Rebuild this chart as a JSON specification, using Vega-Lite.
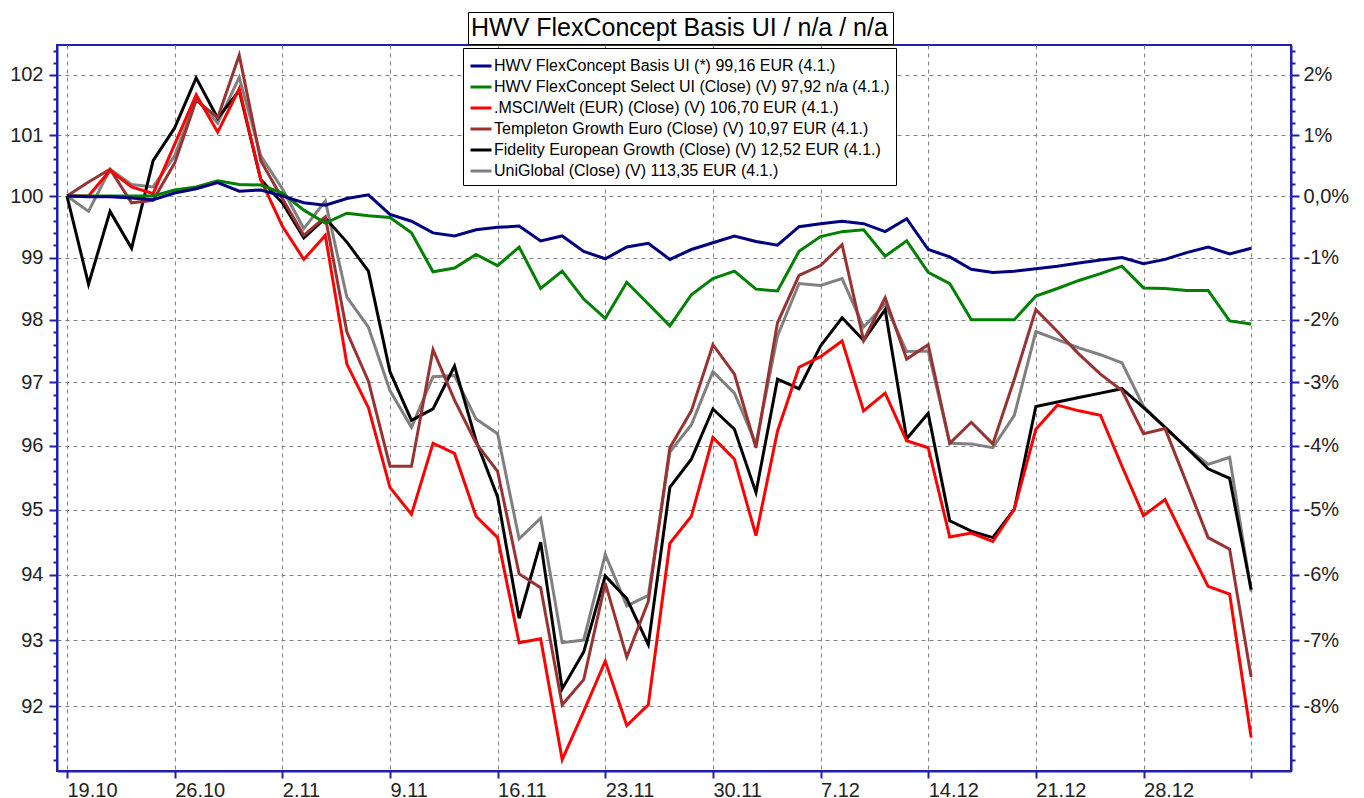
{
  "$schema": "https://vega.github.io/schema/vega-lite/v6.json",
  "width": 1234,
  "height": 726,
  "autosize": "none",
  "padding": {"left": 57, "top": 45, "right": 73, "bottom": 27},
  "background": "white",
  "config": {"view": {"stroke": "#2020b0", "strokeWidth": 2}, "font": "Liberation Sans"},
  "data": {"values": [
    {"i": 0, "basis": 100, "sel": 100, "msci": 100, "tem": 100, "fid": 100, "uni": 100},
    {"i": 1, "basis": 99.99, "sel": 100, "msci": 100.0, "tem": 100.23, "fid": 98.57, "uni": 99.75},
    {"i": 2, "basis": 99.99, "sel": 100, "msci": 100.42, "tem": 100.44, "fid": 99.75, "uni": 100.44},
    {"i": 3, "basis": 99.97, "sel": 100, "msci": 100.15, "tem": 99.89, "fid": 99.15, "uni": 100.19},
    {"i": 4, "basis": 99.94, "sel": 100, "msci": 100.04, "tem": 99.93, "fid": 100.58, "uni": 100.15},
    {"i": 5, "basis": 100.05, "sel": 100.1, "msci": 100.85, "tem": 100.54, "fid": 101.12, "uni": 100.66},
    {"i": 6, "basis": 100.12, "sel": 100.15, "msci": 101.67, "tem": 101.58, "fid": 101.95, "uni": 101.6},
    {"i": 7, "basis": 100.22, "sel": 100.25, "msci": 101.05, "tem": 101.29, "fid": 101.28, "uni": 101.2},
    {"i": 8, "basis": 100.08, "sel": 100.19, "msci": 101.77, "tem": 102.33, "fid": 101.74, "uni": 101.96},
    {"i": 9, "basis": 100.1, "sel": 100.18, "msci": 100.27, "tem": 100.58, "fid": 100.27, "uni": 100.66},
    {"i": 10, "basis": 100.0, "sel": 100.05, "msci": 99.51, "tem": 99.96, "fid": 99.89, "uni": 100.12},
    {"i": 11, "basis": 99.89, "sel": 99.77, "msci": 98.97, "tem": 99.36, "fid": 99.32, "uni": 99.47},
    {"i": 12, "basis": 99.85, "sel": 99.56, "msci": 99.36, "tem": 99.66, "fid": 99.64, "uni": 99.92},
    {"i": 13, "basis": 99.96, "sel": 99.72, "msci": 97.29, "tem": 97.8, "fid": 99.25, "uni": 98.36},
    {"i": 14, "basis": 100.02, "sel": 99.68, "msci": 96.6, "tem": 97.02, "fid": 98.78, "uni": 97.88},
    {"i": 15, "basis": 99.7, "sel": 99.65, "msci": 95.35, "tem": 95.68, "fid": 97.17, "uni": 96.87},
    {"i": 16, "basis": 99.59, "sel": 99.4, "msci": 94.93, "tem": 95.68, "fid": 96.4, "uni": 96.29},
    {"i": 17, "basis": 99.4, "sel": 98.77, "msci": 96.04, "tem": 97.52, "fid": 96.58, "uni": 97.09},
    {"i": 18, "basis": 99.35, "sel": 98.83, "msci": 95.88, "tem": 96.72, "fid": 97.26, "uni": 97.11},
    {"i": 19, "basis": 99.45, "sel": 99.05, "msci": 94.9, "tem": 96.04, "fid": 96.08, "uni": 96.42},
    {"i": 20, "basis": 99.49, "sel": 98.87, "msci": 94.57, "tem": 95.6, "fid": 95.2, "uni": 96.19},
    {"i": 21, "basis": 99.51, "sel": 99.17, "msci": 92.96, "tem": 94.01, "fid": 93.33, "uni": 94.55},
    {"i": 22, "basis": 99.27, "sel": 98.5, "msci": 93.02, "tem": 93.8, "fid": 94.5, "uni": 94.87},
    {"i": 23, "basis": 99.35, "sel": 98.78, "msci": 91.2, "tem": 92.02, "fid": 92.26, "uni": 92.96},
    {"i": 24, "basis": 99.1, "sel": 98.33, "msci": 91.92, "tem": 92.4, "fid": 92.82, "uni": 93.0},
    {"i": 25, "basis": 98.98, "sel": 98.02, "msci": 92.68, "tem": 93.87, "fid": 93.98, "uni": 94.31},
    {"i": 26, "basis": 99.17, "sel": 98.6, "msci": 91.71, "tem": 92.74, "fid": 93.63, "uni": 93.52},
    {"i": 27, "basis": 99.23, "sel": 98.25, "msci": 92.02, "tem": 93.59, "fid": 92.93, "uni": 93.68},
    {"i": 28, "basis": 98.97, "sel": 97.9, "msci": 94.48, "tem": 95.97, "fid": 95.35, "uni": 95.9},
    {"i": 29, "basis": 99.13, "sel": 98.4, "msci": 94.9, "tem": 96.55, "fid": 95.79, "uni": 96.33},
    {"i": 30, "basis": 99.24, "sel": 98.66, "msci": 96.13, "tem": 97.6, "fid": 96.58, "uni": 97.17},
    {"i": 31, "basis": 99.35, "sel": 98.78, "msci": 95.79, "tem": 97.13, "fid": 96.26, "uni": 96.83},
    {"i": 32, "basis": 99.26, "sel": 98.49, "msci": 94.6, "tem": 95.97, "fid": 95.27, "uni": 96.03},
    {"i": 33, "basis": 99.2, "sel": 98.46, "msci": 96.23, "tem": 97.95, "fid": 97.05, "uni": 97.74},
    {"i": 34, "basis": 99.5, "sel": 99.1, "msci": 97.24, "tem": 98.71, "fid": 96.9, "uni": 98.58},
    {"i": 35, "basis": 99.55, "sel": 99.34, "msci": 97.41, "tem": 98.87, "fid": 97.58, "uni": 98.55},
    {"i": 36, "basis": 99.59, "sel": 99.42, "msci": 97.66, "tem": 99.21, "fid": 98.03, "uni": 98.66},
    {"i": 37, "basis": 99.55, "sel": 99.45, "msci": 96.55, "tem": 97.67, "fid": 97.67, "uni": 97.88},
    {"i": 38, "basis": 99.42, "sel": 99.02, "msci": 96.83, "tem": 98.35, "fid": 98.16, "uni": 98.25},
    {"i": 39, "basis": 99.63, "sel": 99.27, "msci": 96.08, "tem": 97.37, "fid": 96.11, "uni": 97.49},
    {"i": 40, "basis": 99.13, "sel": 98.76, "msci": 95.97, "tem": 97.6, "fid": 96.51, "uni": 97.5},
    {"i": 41, "basis": 99.01, "sel": 98.58, "msci": 94.58, "tem": 96.04, "fid": 94.83, "uni": 96.04},
    {"i": 42, "basis": 98.81, "sel": 98.0, "msci": 94.64, "tem": 96.37, "fid": 94.67, "uni": 96.03},
    {"i": 43, "basis": 98.76, "sel": 98.0, "msci": 94.51, "tem": 96.03, "fid": 94.57, "uni": 95.97},
    {"i": 44, "basis": 98.78, "sel": 98.0, "msci": 95.01, "tem": 97.05, "fid": 95.01, "uni": 96.48},
    {"i": 45, "basis": 98.82, "sel": 98.38, "msci": 96.26, "tem": 98.16, "fid": 96.62, "uni": 97.81},
    {"i": 46, "basis": 98.86, "sel": 98.5, "msci": 96.64, "tem": 97.81, "fid": 96.69, "uni": 97.68},
    {"i": 47, "basis": 98.91, "sel": 98.63, "msci": 96.55, "tem": 97.45, "fid": 96.76, "uni": 97.55},
    {"i": 48, "basis": 98.96, "sel": 98.74, "msci": 96.48, "tem": 97.13, "fid": 96.83, "uni": 97.44},
    {"i": 49, "basis": 99.0, "sel": 98.86, "msci": 95.68, "tem": 96.87, "fid": 96.9, "uni": 97.31},
    {"i": 50, "basis": 98.9, "sel": 98.51, "msci": 94.91, "tem": 96.19, "fid": 96.6, "uni": 96.62},
    {"i": 51, "basis": 98.97, "sel": 98.5, "msci": 95.16, "tem": 96.27, "fid": 96.29, "uni": 96.29},
    {"i": 52, "basis": 99.08, "sel": 98.47, "msci": 94.48, "tem": 95.42, "fid": 95.97, "uni": 95.97},
    {"i": 53, "basis": 99.17, "sel": 98.47, "msci": 93.82, "tem": 94.57, "fid": 95.64, "uni": 95.71},
    {"i": 54, "basis": 99.06, "sel": 97.98, "msci": 93.7, "tem": 94.39, "fid": 95.49, "uni": 95.82},
    {"i": 55, "basis": 99.15, "sel": 97.93, "msci": 91.53, "tem": 92.44, "fid": 93.77, "uni": 93.74}
  ]},
  "transform": [{"fold": ["uni", "fid", "tem", "msci", "sel", "basis"], "as": ["series", "value"]}],
  "layer": [
    {
      "mark": {"type": "line", "strokeOpacity": 0},
      "encoding": {
        "x": {"field": "i", "type": "quantitative", "scale": {"domain": [-0.464, 56.85], "nice": false, "zero": false},
          "axis": {"values": [0, 5, 10, 15, 20, 25, 30, 35, 40, 45, 50, 55], "labelExpr": "['19.10','26.10','2.11','9.11','16.11','23.11','30.11','7.12','14.12','21.12','28.12',''][round(datum.value/5)]", "grid": true, "gridColor": "#808080", "gridDash": [4, 4], "gridWidth": 1, "domainColor": "#2020b0", "domainWidth": 2, "tickColor": "#2020b0", "tickWidth": 2, "tickSize": 7, "labelAlign": "left", "labelBaseline": "top", "labelPadding": 2, "labelFontSize": 20, "labelFont": "Liberation Sans", "labelColor": "#222222", "labelOverlap": false, "labelBound": false, "labelFlush": false, "title": null}},
        "y": {"field": "value", "type": "quantitative", "scale": {"type": "log", "domain": [91.03, 102.5], "nice": false, "zero": false},
          "axis": {"orient": "right", "values": [91.2, 91.4, 91.6, 91.8, 92, 92.2, 92.4, 92.6, 92.8, 93, 93.2, 93.4, 93.6, 93.8, 94, 94.2, 94.4, 94.6, 94.8, 95, 95.2, 95.4, 95.6, 95.8, 96, 96.2, 96.4, 96.6, 96.8, 97, 97.2, 97.4, 97.6, 97.8, 98, 98.2, 98.4, 98.6, 98.8, 99, 99.2, 99.4, 99.6, 99.8, 100, 100.2, 100.4, 100.6, 100.8, 101, 101.2, 101.4, 101.6, 101.8, 102, 102.2, 102.4],
            "labelExpr": "datum.value === 100 ? '0,0%' : (datum.value % 1 === 0 ? toString(datum.value - 100) + '%' : '')",
            "tickSize": {"condition": {"test": "datum.value % 1 === 0", "value": 8}, "value": 4},
            "tickColor": "#2020b0", "tickWidth": 2, "domainColor": "#2020b0", "domainWidth": 2, "grid": false,
            "labelFontSize": 20, "labelFont": "Liberation Sans", "labelColor": "#222222", "labelPadding": 4, "labelOverlap": false, "labelBound": false, "labelFlush": false, "title": null}}
      }
    },
    {
      "mark": {"type": "line"},
      "encoding": {
        "x": {"field": "i", "type": "quantitative", "scale": {"domain": [-0.464, 56.85], "nice": false, "zero": false},
          "axis": {"values": [0, 5, 10, 15, 20, 25, 30, 35, 40, 45, 50, 55], "labelExpr": "['19.10','26.10','2.11','9.11','16.11','23.11','30.11','7.12','14.12','21.12','28.12',''][round(datum.value/5)]", "grid": true, "gridColor": "#808080", "gridDash": [4, 4], "gridWidth": 1, "domainColor": "#2020b0", "domainWidth": 2, "tickColor": "#2020b0", "tickWidth": 2, "tickSize": 7, "labelAlign": "left", "labelBaseline": "top", "labelPadding": 2, "labelFontSize": 20, "labelFont": "Liberation Sans", "labelColor": "#222222", "labelOverlap": false, "labelBound": false, "labelFlush": false, "title": null}},
        "y": {"field": "value", "type": "quantitative", "scale": {"type": "log", "domain": [91.03, 102.5], "nice": false, "zero": false},
          "axis": {"orient": "left", "values": [91.2, 91.4, 91.6, 91.8, 92, 92.2, 92.4, 92.6, 92.8, 93, 93.2, 93.4, 93.6, 93.8, 94, 94.2, 94.4, 94.6, 94.8, 95, 95.2, 95.4, 95.6, 95.8, 96, 96.2, 96.4, 96.6, 96.8, 97, 97.2, 97.4, 97.6, 97.8, 98, 98.2, 98.4, 98.6, 98.8, 99, 99.2, 99.4, 99.6, 99.8, 100, 100.2, 100.4, 100.6, 100.8, 101, 101.2, 101.4, 101.6, 101.8, 102, 102.2, 102.4],
            "labelExpr": "datum.value % 1 === 0 ? toString(datum.value) : ''",
            "tickSize": {"condition": {"test": "datum.value % 1 === 0", "value": 8}, "value": 4},
            "tickColor": "#2020b0", "tickWidth": 2, "domainColor": "#2020b0", "domainWidth": 2,
            "grid": true, "gridColor": "#808080", "gridDash": [4, 4], "gridWidth": 1,
            "gridOpacity": {"condition": {"test": "datum.value % 1 === 0", "value": 1}, "value": 0},
            "labelFontSize": 20, "labelFont": "Liberation Sans", "labelColor": "#222222", "labelPadding": 6, "labelOverlap": false, "labelBound": false, "labelFlush": false, "title": null}},
        "strokeWidth": {"field": "series", "type": "nominal", "scale": {"domain": ["basis", "sel", "msci", "tem", "fid", "uni"], "range": [3, 3, 4, 3.5, 3.5, 3.5]}, "legend": null},
        "color": {"field": "series", "type": "nominal",
          "scale": {"domain": ["basis", "sel", "msci", "tem", "fid", "uni"], "range": ["#000080", "#008000", "#ff0000", "#993333", "#000000", "#808080"]},
          "legend": {"title": null, "orient": "none", "legendX": 406, "legendY": 3, "symbolType": "stroke", "symbolSize": 441, "symbolStrokeWidth": 3,
            "labelFontSize": 16, "labelFont": "Liberation Sans", "labelColor": "black", "labelOffset": 1, "labelLimit": 600,
            "strokeColor": "black", "fillColor": "white", "padding": 6, "rowPadding": 1,
            "labelExpr": "datum.label === 'basis' ? 'HWV FlexConcept Basis UI (*) 99,16 EUR (4.1.)' : datum.label === 'sel' ? 'HWV FlexConcept Select UI (Close) (V) 97,92 n/a (4.1.)' : datum.label === 'msci' ? '.MSCI/Welt (EUR) (Close) (V) 106,70 EUR (4.1.)' : datum.label === 'tem' ? 'Templeton Growth Euro (Close) (V) 10,97 EUR (4.1.)' : datum.label === 'fid' ? 'Fidelity European Growth (Close) (V) 12,52 EUR (4.1.)' : 'UniGlobal (Close) (V) 113,35 EUR (4.1.)'"}}
      }
    },
    {
      "mark": {"type": "point", "opacity": 0},
      "encoding": {
        "x": {"field": "i", "type": "quantitative", "scale": {"domain": [-0.464, 56.85], "nice": false, "zero": false}},
        "y": {"field": "value", "type": "quantitative", "scale": {"type": "log", "domain": [91.03, 102.5], "nice": false, "zero": false}, "axis": null},
        "shape": {"field": "i", "type": "nominal",
          "legend": {"values": [0], "title": "HWV FlexConcept Basis UI / n/a / n/a", "titleFontSize": 25, "titleFont": "Liberation Sans", "titleFontWeight": "normal", "titleColor": "black",
            "titleOrient": "left", "titlePadding": 0, "titleLimit": 800, "titleBaseline": "top",
            "orient": "none", "legendX": 411, "legendY": -33,
            "strokeColor": "black", "fillColor": "white", "padding": 3,
            "symbolSize": 2, "symbolOpacity": 0, "symbolStrokeWidth": 0,
            "labelExpr": "''", "labelFontSize": 2, "labelOffset": 0}}
      }
    }
  ],
  "resolve": {"axis": {"y": "independent"}}
}
